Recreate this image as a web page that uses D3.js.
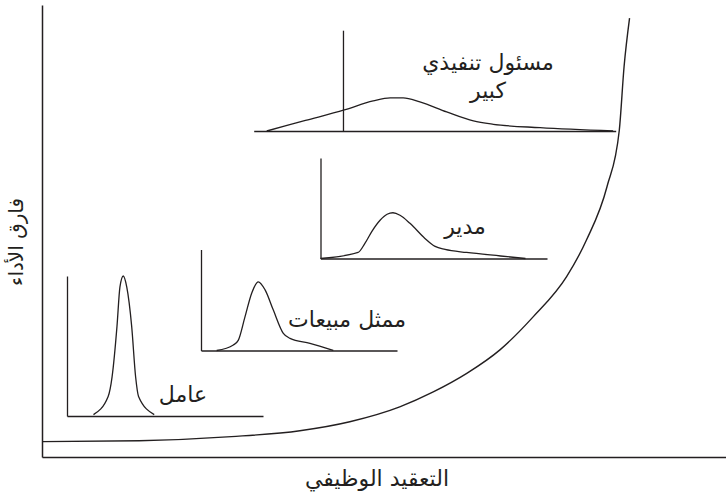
<!DOCTYPE html>
<html>
<head>
<meta charset="utf-8">
<script src="https://cdn.jsdelivr.net/npm/d3@7"></script>
<style>
  body { margin: 0; background: #fff; }
  text { font-family: "DejaVu Sans", sans-serif; fill: #231f20; }
</style>
</head>
<body>
<div class="chart"></div>
<script>
// main curve: job complexity vs performance gap (units 0-100)
var complexity = [0, 14.2, 27.7, 37.7, 45.0, 52.3, 57.2, 62.1, 66.95, 71.8, 76.7, 79.6, 82.6, 84.4, 85.1, 85.9];
var perfGap    = [3.4, 3.6, 4.5, 5.82, 7.81, 11.1, 14.4, 18.5, 23.7, 31.0, 39.9, 48.0, 59.8, 72.3, 86.4, 97.1];

// distribution for each job (local units: x 0-10, density 0-1)
var jobNames = ["عامل", "ممثل مبيعات", "مدير", "مسئول تنفيذي كبير"];
var workerX  = [1.35, 2.1, 2.3, 2.55, 2.7, 2.87, 3.05, 3.3, 3.5, 3.65, 4.45];
var workerY  = [0.01, 0.14, 0.28, 0.64, 0.92, 1, 0.92, 0.64, 0.28, 0.14, 0.01];
var salesX   = [0.8, 1.65, 1.9, 2.24, 2.59, 2.92, 3.27, 3.69, 4.2, 4.54, 5.56, 6.75];
var salesY   = [0, 0.055, 0.1, 0.33, 0.57, 0.68, 0.6, 0.4, 0.17, 0.12, 0.07, 0];
var managerX = [0, 1.66, 1.96, 2.27, 2.63, 2.94, 3.2, 3.51, 3.95, 4.61, 5.06, 5.5, 6.45, 7.95, 9.05];
var managerY = [0, 0.06, 0.15, 0.27, 0.38, 0.44, 0.455, 0.43, 0.35, 0.2, 0.12, 0.09, 0.06, 0.025, 0];
var execX    = [0.36, 1.43, 2.5, 3.3, 3.77, 4.13, 4.59, 5.33, 6.07, 6.62, 7.91, 9.93];
var execY    = [0, 0.105, 0.21, 0.3, 0.33, 0.33, 0.29, 0.19, 0.1, 0.067, 0.033, 0];
var execMarker = 2.48;

var width = 726, height = 498;
var ink = "#231f20";

var svg = d3.select(".chart").append("svg")
  .attr("width", width)
  .attr("height", height);

var x = d3.scaleLinear().domain([0, 100]).range([42, 726]);
var y = d3.scaleLinear().domain([0, 100]).range([457, 5]);

// main axes, no ticks
svg.append("g")
  .attr("transform", "translate(0," + y(0) + ")")
  .call(d3.axisBottom(x).ticks(0).tickSizeOuter(0));
svg.append("g")
  .attr("transform", "translate(" + x(0) + ",0)")
  .call(d3.axisLeft(y).ticks(0).tickSizeOuter(0));
svg.selectAll(".domain").attr("stroke", ink).attr("stroke-width", 1.5);

var mainLine = d3.line()
  .x(function(d, i) { return x(complexity[i]); })
  .y(function(d, i) { return y(perfGap[i]); })
  .curve(d3.curveMonotoneX);

svg.append("path")
  .attr("d", mainLine(complexity))
  .attr("fill", "none")
  .attr("stroke", ink)
  .attr("stroke-width", 1.4);

// panel boxes in pixels
var panels = [
  { xs: workerX,  ys: workerY,  left: 67,    right: 263,   base: 416,   top: 276,   axis: true,
    label: [jobNames[0]], lx: 183, ly: 396 },
  { xs: salesX,   ys: salesY,   left: 201,   right: 397,   base: 350.5, top: 249.5, axis: true,
    label: [jobNames[1]], lx: 347, ly: 321 },
  { xs: managerX, ys: managerY, left: 320.5, right: 547,   base: 258.5, top: 158,   axis: true,
    label: [jobNames[2]], lx: 465, ly: 228 },
  { xs: execX,    ys: execY,    left: 253.7, right: 615.7, base: 131,   top: 30.7,  axis: false,
    label: ["مسئول تنفيذي", "كبير"], lx: 488, ly: 64 }
];

panels.forEach(function(p) {
  var px = d3.scaleLinear().domain([0, 10]).range([p.left, p.right]);
  var py = d3.scaleLinear().domain([0, 1]).range([p.base, p.top]);
  var g = svg.append("g");

  g.append("g")
    .attr("transform", "translate(0," + p.base + ")")
    .call(d3.axisBottom(px).ticks(0).tickSizeOuter(0));
  if (p.axis) {
    g.append("g")
      .attr("transform", "translate(" + p.left + ",0)")
      .call(d3.axisLeft(py).ticks(0).tickSizeOuter(0));
  } else {
    g.append("line")
      .attr("x1", px(execMarker)).attr("x2", px(execMarker))
      .attr("y1", py(0)).attr("y2", py(1))
      .attr("stroke", ink).attr("stroke-width", 1.3);
  }
  g.selectAll(".domain").attr("stroke", ink).attr("stroke-width", 1.3);

  var line = d3.line()
    .x(function(d, i) { return px(p.xs[i]); })
    .y(function(d, i) { return py(p.ys[i]); })
    .curve(d3.curveMonotoneX);
  g.append("path")
    .attr("d", line(p.xs))
    .attr("fill", "none")
    .attr("stroke", ink)
    .attr("stroke-width", 1.3);

  g.selectAll("text.lbl")
    .data(p.label)
    .enter()
    .append("text")
    .attr("class", "lbl")
    .attr("x", p.lx)
    .attr("y", function(d, i) { return p.ly + i * 28; })
    .attr("text-anchor", "middle")
    .attr("dominant-baseline", "middle")
    .attr("direction", "rtl")
    .style("font-size", "22px")
    .text(function(d) { return d; });
});

// axis titles
svg.append("text")
  .attr("x", 377)
  .attr("y", 480)
  .attr("text-anchor", "middle")
  .attr("dominant-baseline", "middle")
  .style("font-size", "22px")
  .text("التعقيد الوظيفي");

svg.append("text")
  .attr("transform", "translate(17,242) rotate(-90)")
  .attr("text-anchor", "middle")
  .attr("dominant-baseline", "middle")
  .style("font-size", "20px")
  .text("فارق الأداء");
</script>
</body>
</html>
